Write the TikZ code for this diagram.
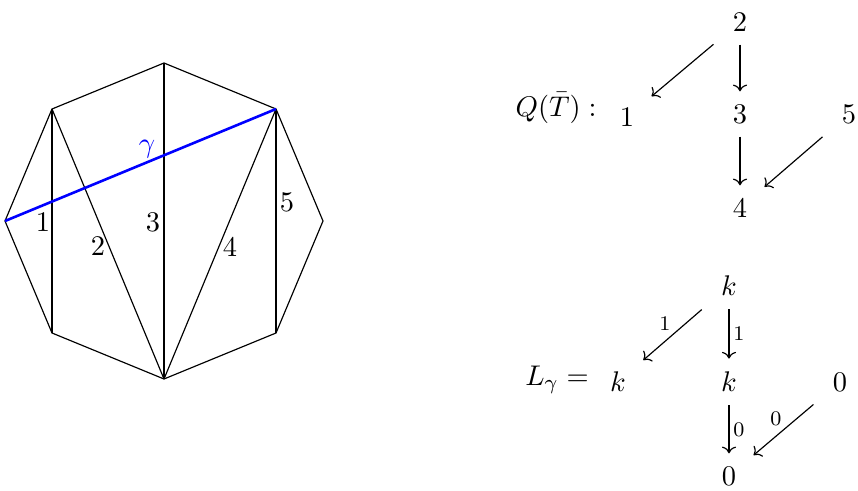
\documentclass[11pt,tikz,border=0pt]{standalone}
\usetikzlibrary{arrows.meta}

\begin{document}
\begin{tikzpicture}[x=0.01353cm, y=-0.01353cm,
    edge/.style={line width=0.45pt, black},
    curve/.style={line width=1pt, blue},
    vert/.style={inner sep=5pt},
    arr/.style={-{To}, line width=0.45pt},
    lbl/.style={font=\scriptsize, inner sep=1.5pt}
  ]
  \useasboundingbox (0,0) rectangle (858,491);
  % octagon
  \coordinate (top) at (164,63);
  \coordinate (ur) at (276,109);
  \coordinate (r) at (323,221);
  \coordinate (lr) at (276,333);
  \coordinate (bot) at (164,379);
  \coordinate (ll) at (52,333);
  \coordinate (l) at (5,221);
  \coordinate (ul) at (52,109);
  \draw[edge] (top) -- (ur) -- (r) -- (lr) -- (bot) -- (ll) -- (l) -- (ul) -- cycle;
  % triangulation
  \draw[edge] (ul) -- (ll);
  \draw[edge] (ul) -- (bot);
  \draw[edge] (top) -- (bot);
  \draw[edge] (bot) -- (ur);
  \draw[edge] (ur) -- (lr);
  \draw[curve] (l) -- (ur);
  \node[blue] (g) at (147,149) {$\gamma$};
  \node (a1) at (43,222) {$1$};
  \node (a2) at (98,246) {$2$};
  \node (a3) at (153,222) {$3$};
  \node (a4) at (230,247) {$4$};
  \node (a5) at (287,202) {$5$};

  % quiver
  \node (qlab) at (556,108) {$Q(\bar{T}):$};
  \node[vert] (q2) at (740,22) {$2$};
  \node[vert] (q1) at (627,117) {$1$};
  \node[vert] (q3) at (740,114) {$3$};
  \node[vert] (q5) at (849,114) {$5$};
  \node[vert] (q4) at (740,208) {$4$};
  \draw[arr, shorten <=3pt, shorten >=2pt] (q2) -- (q1);
  \draw[arr] (q2) -- (q3);
  \draw[arr] (q3) -- (q4);
  \draw[arr, shorten <=3pt, shorten >=2pt] (q5) -- (q4);

  % representation
  \node (llab) at (557,380) {$L_\gamma =$};
  \node[vert] (k2) at (729,286) {$k$};
  \node[vert] (k1) at (618,382) {$k$};
  \node[vert] (k3) at (729,382) {$k$};
  \node[vert] (z5) at (840,382) {$0$};
  \node[vert] (z4) at (729,476) {$0$};
  \draw[arr, shorten <=3pt, shorten >=2pt] (k2) -- node[lbl, above left, inner sep=1pt] {$1$} (k1);
  \draw[arr] (k2) -- node[lbl, right] {$1$} (k3);
  \draw[arr] (k3) -- node[lbl, right] {$0$} (z4);
  \draw[arr, shorten <=3pt, shorten >=2pt] (z5) -- node[lbl, above left, inner sep=1pt] {$0$} (z4);
\end{tikzpicture}
\end{document}
